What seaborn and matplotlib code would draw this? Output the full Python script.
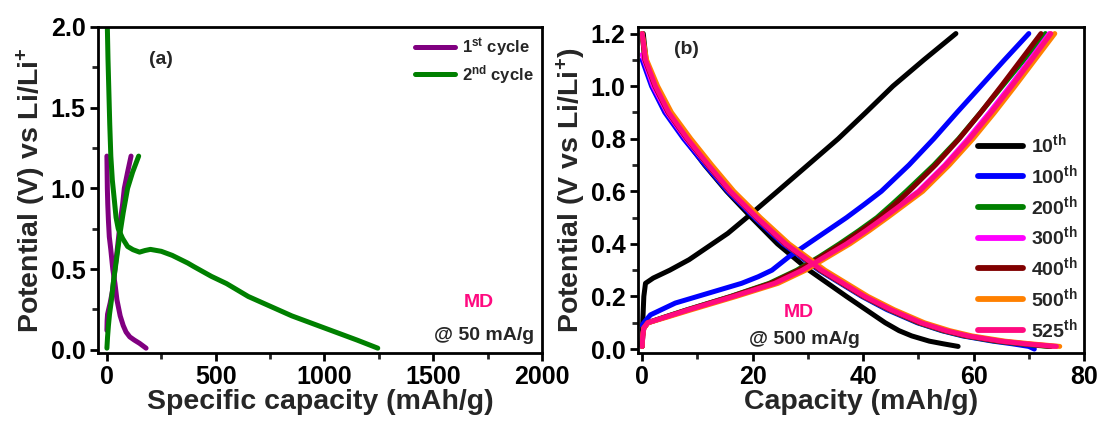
import matplotlib
matplotlib.use("Agg")
import matplotlib.pyplot as plt
from matplotlib.lines import Line2D
from matplotlib.ticker import MultipleLocator
import pandas as pd
import seaborn as sns

# ---------------- (a) first two cycles at 50 mA/g ----------------
cycles_a = ["1st", "2nd"]
labels_a = [r"1$^{\mathbf{st}}$ cycle", r"2$^{\mathbf{nd}}$ cycle"]
colors_a = ["#800080", "#008000"]

c1_dis_cap = [0, 1, 2, 4, 7, 11, 18, 27, 37, 46, 61, 75, 88, 105, 126, 150, 180]
c1_dis_v = [1.2, 1.1, 1.0, 0.9, 0.8, 0.7, 0.62, 0.5, 0.41, 0.31, 0.21, 0.15, 0.11, 0.08, 0.06, 0.04, 0.01]
c1_chg_cap = [0, 1, 3, 8, 15, 25, 37, 50, 62, 72, 80, 95, 111]
c1_chg_v = [0.12, 0.18, 0.22, 0.25, 0.29, 0.36, 0.5, 0.65, 0.8, 0.9, 1.0, 1.1, 1.2]

c2_dis_cap = [2, 5, 9, 13, 18, 25, 34, 42, 52, 72, 95, 120, 150, 175, 200, 250,
              300, 372, 400, 480, 550, 650, 750, 850, 950, 1050, 1150, 1245]
c2_dis_v = [2.0, 1.8, 1.6, 1.4, 1.2, 1.05, 0.93, 0.82, 0.75, 0.69, 0.64, 0.62, 0.605, 0.615, 0.622, 0.61,
            0.585, 0.537, 0.515, 0.455, 0.41, 0.33, 0.27, 0.21, 0.16, 0.11, 0.06, 0.01]
c2_chg_cap = [0, 3, 7, 12, 20, 30, 38, 50, 60, 75, 95, 118, 146]
c2_chg_v = [0.01, 0.08, 0.15, 0.22, 0.3, 0.42, 0.5, 0.62, 0.72, 0.85, 1.0, 1.1, 1.2]

# ---------------- (b) long cycling at 500 mA/g ----------------
cycles_b = ["10th", "100th", "200th", "300th", "400th", "500th", "525th"]
labels_b = [r"10$^{\mathbf{th}}$", r"100$^{\mathbf{th}}$", r"200$^{\mathbf{th}}$",
            r"300$^{\mathbf{th}}$", r"400$^{\mathbf{th}}$", r"500$^{\mathbf{th}}$",
            r"525$^{\mathbf{th}}$"]
colors_b = ["#000000", "#0000FF", "#008000", "#FF00FF", "#800000", "#FF8000", "#FF0A80"]

dis_v = [1.2, 1.1, 1.0, 0.9, 0.8, 0.7, 0.6, 0.5, 0.4, 0.3, 0.2, 0.15, 0.1, 0.07, 0.05, 0.03, 0.02, 0.01]
chg_v = [0.01, 0.05, 0.08, 0.1, 0.12, 0.15, 0.2, 0.25, 0.3, 0.35, 0.4, 0.45, 0.5, 0.55, 0.6,
         0.7, 0.8, 0.9, 1.0, 1.1, 1.2]

c10_dis_cap = [0.2, 0.7, 2.2, 4.5, 7.7, 11.3, 15.3, 19.8, 24.5, 30.2, 37, 40.5, 44, 46.5, 48.8, 52, 54.5, 57.2]
c10_chg_cap = [0, 0.1, 0.3, 0.6, 2, 5, 8.5, 12, 15.5, 19.5, 24.5, 30, 35.5, 40.5, 45.4, 51, 56.8]
c10_chg_v = [0.01, 0.1, 0.2, 0.25, 0.27, 0.3, 0.34, 0.39, 0.44, 0.51, 0.6, 0.7, 0.8, 0.9, 1.0, 1.1, 1.2]

c100_dis_cap = [0, 1.7, 4.1, 7.5, 11.4, 15.5, 20.3, 25.5, 32, 39.8, 44.3, 49.8, 54.2, 58, 63.5, 67, 70, 71]
c100_dis_v = [1.1, 1.0, 0.9, 0.8, 0.7, 0.6, 0.5, 0.4, 0.3, 0.2, 0.15, 0.1, 0.07, 0.05, 0.03, 0.02, 0.01, 0.0]
c100_chg_cap = [0, 0.3, 1.5, 3.5, 6, 10, 14, 18, 21, 23.5, 26.5, 30, 33.5, 37, 40.2, 43.3,
                48.3, 52.8, 57, 61.3, 65.6, 70]
c100_chg_v = [0.09, 0.1, 0.13, 0.15, 0.175, 0.2, 0.225, 0.25, 0.275, 0.3, 0.35, 0.4, 0.45, 0.5, 0.55, 0.6,
              0.7, 0.8, 0.9, 1.0, 1.1, 1.2]

c200_dis_cap = [0, 0.5, 2.2, 4.6, 8.0, 11.8, 15.8, 20.6, 25.8, 32.2, 40, 44.6, 50, 54.4, 58.3, 64, 68.3, 73.5]
c200_chg_cap = [0, 0.1, 0.3, 1, 3.8, 8.2, 16, 23, 28, 32, 35.7, 39.2, 42.5, 45.2, 47.8,
                52.8, 57.3, 61.3, 65.2, 69.1, 73]

c300_dis_cap = [0, 2.0, 4.5, 7.9, 11.8, 15.8, 20.6, 25.8, 32.3, 40.1, 44.8, 50.3, 54.8, 58.8, 64.8, 69.3, 74.5]
c300_dis_v = [1.12, 1.0, 0.9, 0.8, 0.7, 0.6, 0.5, 0.4, 0.3, 0.2, 0.15, 0.1, 0.07, 0.05, 0.03, 0.02, 0.01]
c300_chg_cap = [0, 0.1, 0.3, 1, 4, 8.5, 16.3, 23.8, 28.8, 32.8, 36.8, 40.3, 43.6, 46.8, 50,
                54.8, 59, 62.9, 66.6, 70.2, 73.7]

c400_dis_cap = [0, 0.5, 2.3, 4.7, 8.1, 11.9, 15.9, 20.7, 25.9, 32.3, 40.1, 44.8, 50.2, 54.7, 58.6, 64.5, 69, 74]
c400_chg_cap = [0, 0.1, 0.3, 1, 3.9, 8.3, 16.1, 23.3, 28.3, 32.3, 36.1, 39.6, 42.9, 45.7, 48.3,
                53.1, 57.4, 61.3, 65, 68.6, 72.2]

c500_dis_cap = [0, 0.8, 2.8, 5.3, 8.8, 12.6, 16.6, 21.4, 26.6, 33.1, 40.9, 45.6, 51.1, 55.7, 59.7, 65.7, 70.3, 75.6]
c500_chg_cap = [0, 0.1, 0.3, 1.1, 4.3, 9, 17, 24.6, 29.6, 33.6, 37.6, 41.1, 44.4, 47.6, 50.8,
                55.6, 59.9, 63.8, 67.5, 71.1, 74.7]

c525_dis_cap = [0, 0.6, 2.4, 4.8, 8.2, 12, 16, 20.8, 26, 32.5, 40.3, 45, 50.5, 55, 59, 65, 69.5, 75]
c525_chg_cap = [0, 0.1, 0.3, 1, 4, 8.5, 16.5, 24, 29, 33, 37, 40.5, 43.8, 47, 50.2,
                55, 59.3, 63.2, 66.9, 70.5, 74]


def segments(name, pieces):
    frames = []
    for branch, cap, volt in pieces:
        frames.append(pd.DataFrame({"cap": cap, "volt": volt, "cycle": name, "branch": branch}))
    return frames


frames_a = []
frames_a += segments("1st", [("dis", c1_dis_cap, c1_dis_v), ("chg", c1_chg_cap, c1_chg_v)])
frames_a += segments("2nd", [("dis", c2_dis_cap, c2_dis_v), ("chg", c2_chg_cap, c2_chg_v)])
df_a = pd.concat(frames_a, ignore_index=True)

frames_b = []
frames_b += segments("10th", [("dis", c10_dis_cap, dis_v), ("chg", c10_chg_cap, c10_chg_v)])
frames_b += segments("100th", [("dis", c100_dis_cap, c100_dis_v), ("chg", c100_chg_cap, c100_chg_v)])
frames_b += segments("200th", [("dis", c200_dis_cap, dis_v), ("chg", c200_chg_cap, chg_v)])
frames_b += segments("300th", [("dis", c300_dis_cap, c300_dis_v), ("chg", c300_chg_cap, chg_v)])
frames_b += segments("400th", [("dis", c400_dis_cap, dis_v), ("chg", c400_chg_cap, chg_v)])
frames_b += segments("500th", [("dis", c500_dis_cap, dis_v), ("chg", c500_chg_cap, chg_v)])
frames_b += segments("525th", [("dis", c525_dis_cap, dis_v), ("chg", c525_chg_cap, chg_v)])
df_b = pd.concat(frames_b, ignore_index=True)

# ---------------- style ----------------
sns.set_theme(style="ticks")
plt.rcParams["font.family"] = ["Liberation Sans", "DejaVu Sans"]
plt.rcParams["font.weight"] = "bold"
plt.rcParams["axes.labelweight"] = "bold"
plt.rcParams["mathtext.fontset"] = "custom"
plt.rcParams["mathtext.bf"] = "Liberation Sans:bold"
plt.rcParams["mathtext.rm"] = "Liberation Sans:bold"
plt.rcParams["mathtext.it"] = "Liberation Sans:bold"

LW = 3.6
TICK_FS = 18
LABEL_FS = 20.5
MD_COLOR = "#FF0A80"

fig = plt.figure(figsize=(11.01, 4.23), dpi=100)
ax_a = fig.add_axes([0.0890, 0.1655, 0.4033, 0.7707])
ax_b = fig.add_axes([0.5795, 0.1655, 0.4051, 0.7707])

sns.lineplot(data=df_a, x="cap", y="volt", hue="cycle", units="branch", estimator=None,
             sort=False, palette=dict(zip(cycles_a, colors_a)), hue_order=cycles_a,
             lw=LW, solid_capstyle="round", legend=False, ax=ax_a)
sns.lineplot(data=df_b, x="cap", y="volt", hue="cycle", units="branch", estimator=None,
             sort=False, palette=dict(zip(cycles_b, colors_b)), hue_order=cycles_b,
             lw=LW, solid_capstyle="round", legend=False, ax=ax_b)

for ax in (ax_a, ax_b):
    for sp in ax.spines.values():
        sp.set_visible(True)
        sp.set_linewidth(2)
        sp.set_color("black")
    ax.tick_params(which="major", direction="out", length=6, width=2, labelsize=TICK_FS,
                   colors="black", pad=3)
    ax.tick_params(which="minor", direction="out", length=4, width=2)

ax_a.set_xlim(-41, 2000)
ax_a.set_ylim(-0.02, 2.0)
ax_a.xaxis.set_minor_locator(MultipleLocator(250))
ax_a.yaxis.set_minor_locator(MultipleLocator(0.25))
ax_a.set_xticks([0, 500, 1000, 1500, 2000])
ax_a.set_xticklabels(["0", "500", "1000", "1500", "2000"], fontweight="bold")
ax_a.set_yticks([0, 0.5, 1.0, 1.5, 2.0])
ax_a.set_yticklabels(["0.0", "0.5", "1.0", "1.5", "2.0"], fontweight="bold")
ax_a.set_xlabel("Specific capacity (mAh/g)", fontsize=LABEL_FS, fontweight="bold", labelpad=0)
ax_a.set_ylabel(r"Potential (V) vs Li/Li$^{\mathbf{+}}$", fontsize=LABEL_FS, fontweight="bold", labelpad=2)

ax_b.set_xlim(-0.75, 80)
ax_b.set_ylim(-0.015, 1.225)
ax_b.xaxis.set_minor_locator(MultipleLocator(10))
ax_b.yaxis.set_minor_locator(MultipleLocator(0.1))
ax_b.set_xticks([0, 20, 40, 60, 80])
ax_b.set_xticklabels(["0", "20", "40", "60", "80"], fontweight="bold")
ax_b.set_yticks([0, 0.2, 0.4, 0.6, 0.8, 1.0, 1.2])
ax_b.set_yticklabels(["0.0", "0.2", "0.4", "0.6", "0.8", "1.0", "1.2"], fontweight="bold")
ax_b.set_xlabel("Capacity (mAh/g)", fontsize=LABEL_FS, fontweight="bold", labelpad=0)
ax_b.set_ylabel(r"Potential (V vs Li/Li$^{\mathbf{+}}$)", fontsize=LABEL_FS, fontweight="bold", labelpad=2)

# legends
h_a = [Line2D([], [], color=c, lw=LW, solid_capstyle="round") for c in colors_a]
ax_a.legend(h_a, labels_a, loc="center left", bbox_to_anchor=(0.714, 0.896), frameon=False,
            prop={"weight": "bold", "size": 12}, handlelength=2.4, handletextpad=0.4,
            borderpad=0, borderaxespad=0, labelspacing=0.25)
h_b = [Line2D([], [], color=c, lw=LW + 0.6, solid_capstyle="round") for c in colors_b]
ax_b.legend(h_b, labels_b, loc="center left", bbox_to_anchor=(0.762, 0.357), frameon=False,
            prop={"weight": "bold", "size": 14}, handlelength=2.3, handletextpad=0.45,
            borderpad=0, borderaxespad=0, labelspacing=0.35)

# annotations
ax_a.text(0.142, 0.899, "(a)", transform=ax_a.transAxes, ha="center", va="center",
          fontsize=14, fontweight="bold")
ax_a.text(0.858, 0.156, "MD", transform=ax_a.transAxes, ha="center", va="center",
          fontsize=14, fontweight="bold", color=MD_COLOR)
ax_a.text(0.982, 0.055, "@ 50 mA/g", transform=ax_a.transAxes, ha="right", va="center",
          fontsize=14, fontweight="bold")
ax_b.text(0.108, 0.931, "(b)", transform=ax_b.transAxes, ha="center", va="center",
          fontsize=14, fontweight="bold")
ax_b.text(0.360, 0.123, "MD", transform=ax_b.transAxes, ha="center", va="center",
          fontsize=14, fontweight="bold", color=MD_COLOR)
ax_b.text(0.372, 0.040, "@ 500 mA/g", transform=ax_b.transAxes, ha="center", va="center",
          fontsize=14, fontweight="bold")

fig.savefig("out.png", dpi=100)
